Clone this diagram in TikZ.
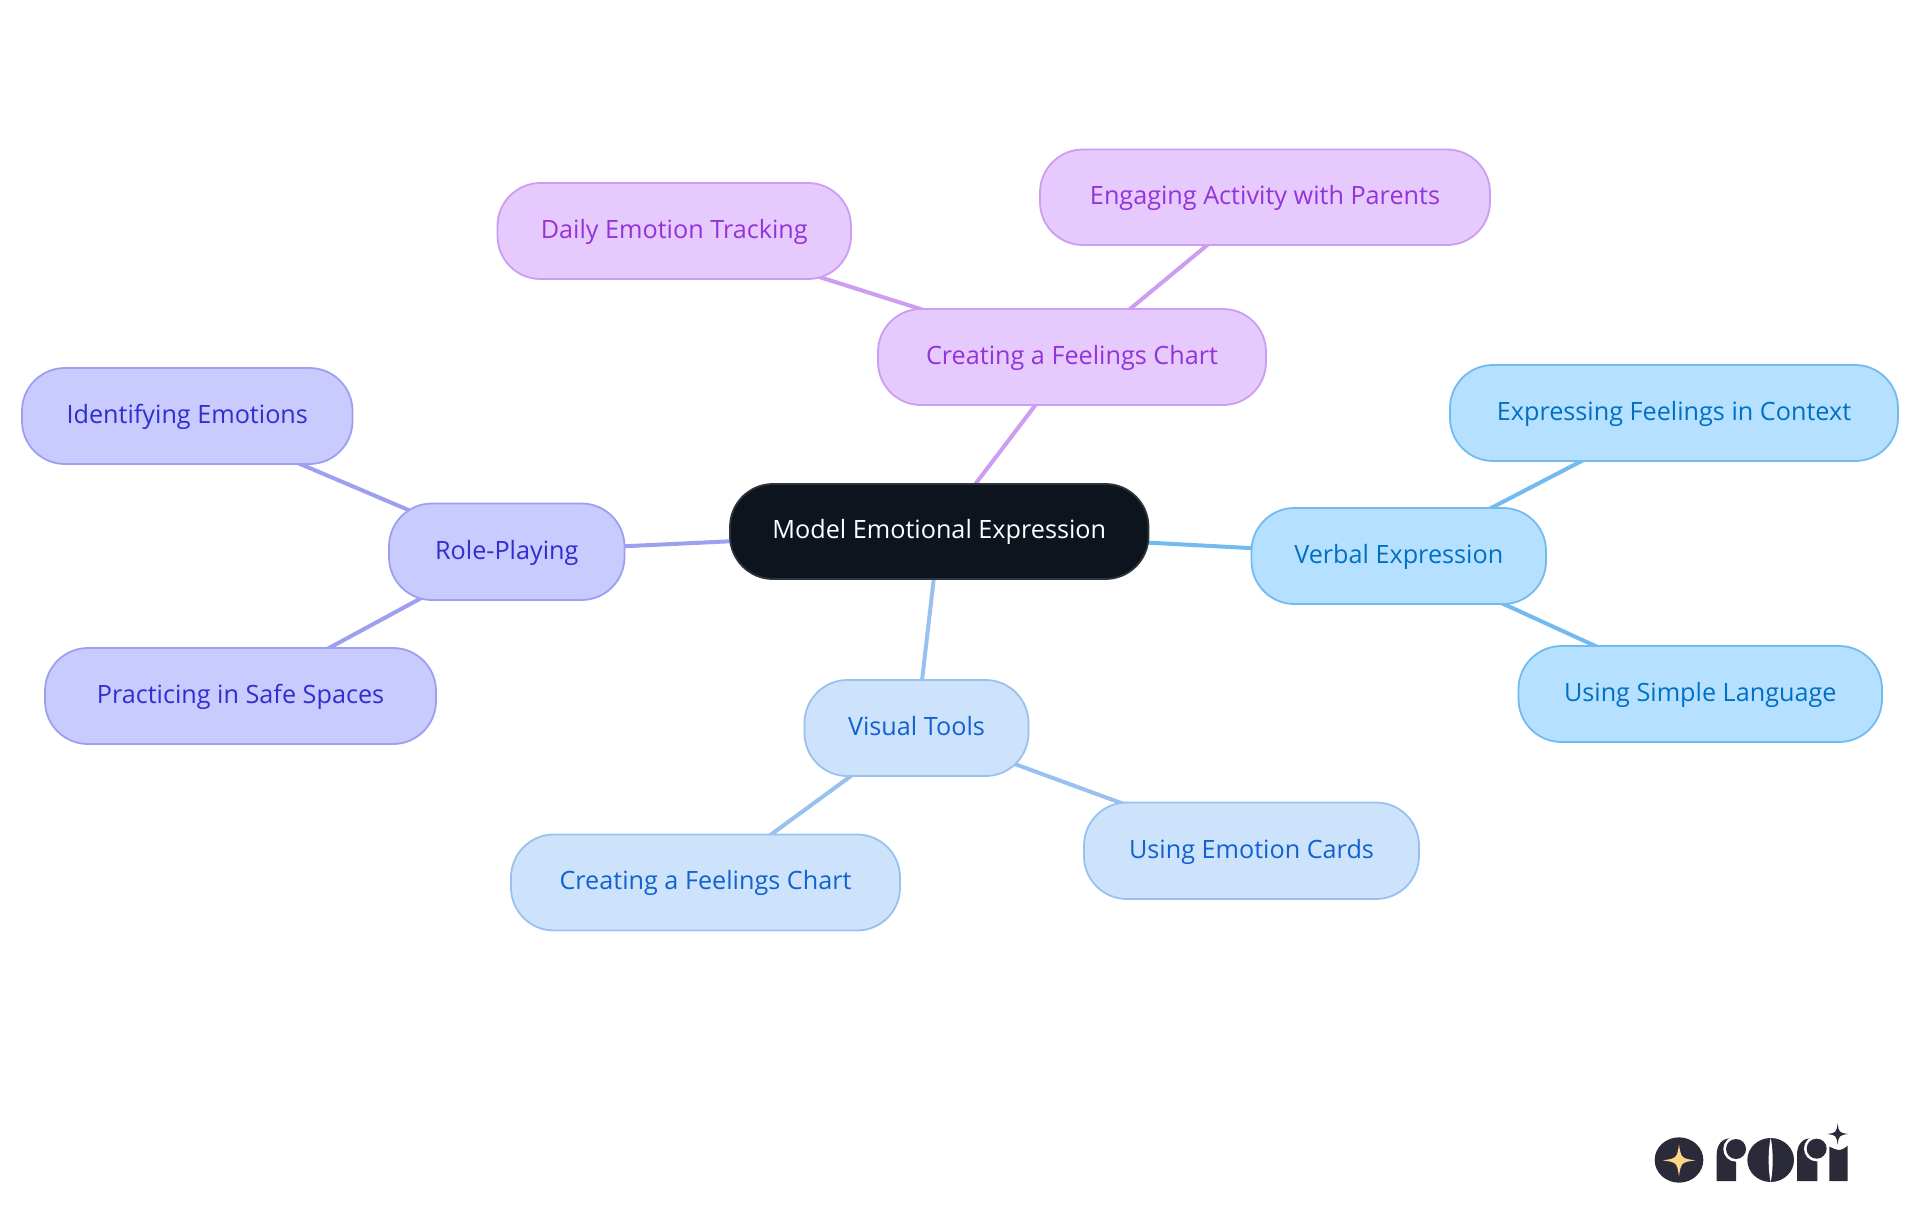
\documentclass[tikz,border=0pt]{standalone}
\usepackage{fontspec}
\setmainfont{Open Sans}[Scale=1.0]
\usetikzlibrary{backgrounds}
\definecolor{rootfill}{HTML}{0D141D}\definecolor{rootline}{HTML}{2E343C}
\definecolor{pfill}{HTML}{E6CAFE}\definecolor{pline}{HTML}{CC9DF0}\definecolor{ptext}{HTML}{9333D9}
\definecolor{ifill}{HTML}{C9CAFE}\definecolor{iline}{HTML}{9D9FF0}\definecolor{itext}{HTML}{2F2FCF}
\definecolor{cfill}{HTML}{B5E0FF}\definecolor{cline}{HTML}{72BBF0}\definecolor{ctext}{HTML}{0070C4}
\definecolor{bfill}{HTML}{CDE3FC}\definecolor{bline}{HTML}{99C1EF}\definecolor{btext}{HTML}{1162D0}
\definecolor{logoink}{HTML}{2A2A38}\definecolor{logostar}{HTML}{FBD58A}
\tikzset{
  mm/.style={rectangle,rounded corners=43pt,line width=1.8pt,inner sep=0pt,
     font=\fontsize{25.2pt}{30pt}\selectfont,text height=23pt,text depth=8.4pt},
  rootnode/.style={mm,fill=rootfill,draw=rootline,text=white},
  purplenode/.style={mm,fill=pfill,draw=pline,text=ptext},
  indigonode/.style={mm,fill=ifill,draw=iline,text=itext},
  cyannode/.style={mm,fill=cfill,draw=cline,text=ctext},
  bluenode/.style={mm,fill=bfill,draw=bline,text=btext},
  link/.style={line width=4pt},
}
\newcommand{\mmnode}[8]{% style,name,L,R,T,B,text
  \node[#1,minimum width={(#4)*1pt-(#3)*1pt},minimum height={(#6)*1pt-(#5)*1pt}] (#2) at ({(#3+#4)/2},{(#5+#6)/2}) {#7};}
\newcommand{\fourstar}[4]{% cx,cy,rx,ry
  ({#1-#3},#2) .. controls ({#1-0.15*#3},{#2-0.12*#4}) and ({#1-0.12*#3},{#2-0.15*#4}) .. (#1,{#2-#4})
  .. controls ({#1+0.12*#3},{#2-0.15*#4}) and ({#1+0.15*#3},{#2-0.12*#4}) .. ({#1+#3},#2)
  .. controls ({#1+0.15*#3},{#2+0.12*#4}) and ({#1+0.12*#3},{#2+0.15*#4}) .. (#1,{#2+#4})
  .. controls ({#1-0.12*#3},{#2+0.15*#4}) and ({#1-0.15*#3},{#2+0.12*#4}) .. cycle}
\begin{document}
\begin{tikzpicture}[x=1pt,y=-1pt]
\useasboundingbox (0,0) rectangle (1920,1215);
\mmnode{rootnode}{root}{730}{1148.5}{484}{579}{Model Emotional Expression}{}
\mmnode{purplenode}{chart}{878}{1266}{309}{405}{Creating a Feelings Chart}{}
\mmnode{purplenode}{engage}{1040}{1490}{149.5}{245}{Engaging Activity with Parents}{}
\mmnode{purplenode}{daily}{497.5}{851}{183}{279}{Daily Emotion Tracking}{}
\mmnode{indigonode}{role}{389}{624.5}{503.5}{600}{Role-Playing}{}
\mmnode{indigonode}{ident}{22}{352.5}{368}{464}{Identifying Emotions}{}
\mmnode{indigonode}{safe}{45}{436}{648}{744}{Practicing in Safe Spaces}{}
\mmnode{cyannode}{verbal}{1251.5}{1546}{508}{604}{Verbal Expression}{}
\mmnode{cyannode}{context}{1450}{1898}{365}{461}{Expressing Feelings in Context}{}
\mmnode{cyannode}{simple}{1518.5}{1882}{646}{742}{Using Simple Language}{}
\mmnode{bluenode}{visual}{804.5}{1028.5}{680}{776}{Visual Tools}{}
\mmnode{bluenode}{chartb}{511}{900}{834.5}{930.5}{Creating a Feelings Chart}{}
\mmnode{bluenode}{cards}{1084}{1419}{802.5}{899}{Using Emotion Cards}{}
\begin{scope}[on background layer]
\fill[white] (0,0) rectangle (1920,1215);
\draw[link,pline] (root.center) -- (chart.center);
\draw[link,pline] (chart.center) -- (engage.center);
\draw[link,pline] (chart.center) -- (daily.center);
\draw[link,iline] (root.center) -- (role.center);
\draw[link,iline] (role.center) -- (ident.center);
\draw[link,iline] (role.center) -- (safe.center);
\draw[link,cline] (root.center) -- (verbal.center);
\draw[link,cline] (verbal.center) -- (context.center);
\draw[link,cline] (verbal.center) -- (simple.center);
\draw[link,bline] (root.center) -- (visual.center);
\draw[link,bline] (visual.center) -- (chartb.center);
\draw[link,bline] (visual.center) -- (cards.center);
\end{scope}
% logo, in coordinates of a 3x crop at (1620,1100)
\begin{scope}[shift={(1620,1100)},x=0.3333pt,y=-0.3333pt]
\fill[logoink] (177,180) ellipse [x radius=73,y radius=68];
\fill[logostar] \fourstar{177}{181}{49}{48};
% first r
\fill[logoink] (290,243) -- (290,165) .. controls (290,135) and (305,115) .. (332,115) -- (348,150) -- (348,243) -- cycle;
\fill[white] (348,147) circle [radius=38];
\fill[logoink] (348,147) circle [radius=30];
% o
\fill[logoink] (452,180) ellipse [x radius=70,y radius=66];
\fill[white] (452,113) .. controls (444,150) and (444,210) .. (452,247) .. controls (460,210) and (460,150) .. (452,113) -- cycle;
% second r
\fill[logoink] (531,243) -- (531,165) .. controls (531,135) and (546,115) .. (573,115) -- (592,150) -- (592,243) -- cycle;
\fill[white] (590,146) circle [radius=38];
\fill[logoink] (590,146) circle [radius=30];
% i
\fill[logoink] (628,243) -- (628,140) .. controls (640,145) and (648,150) .. (655,150) .. controls (664,150) and (675,145) .. (683,137) -- (683,243) -- cycle;
\fill[logoink] \fourstar{653}{102}{31}{32};
\end{scope}
\end{tikzpicture}
\end{document}
